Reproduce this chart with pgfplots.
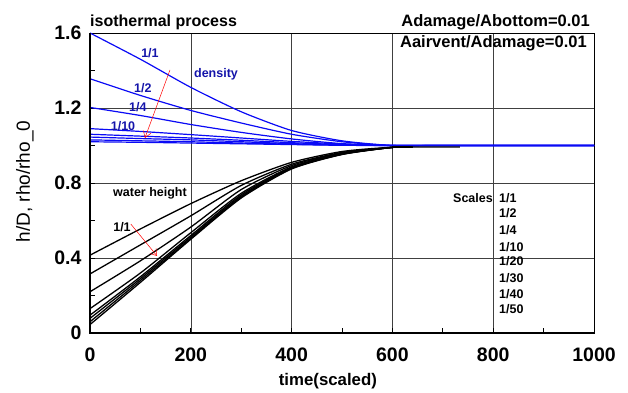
\documentclass[border=0pt]{standalone}
\usepackage{fontspec}
\setmainfont{Liberation Sans}
\usepackage{pgfplots}
\pgfplotsset{compat=1.18}
\usetikzlibrary{arrows.meta}
\definecolor{lblue}{RGB}{10,10,245}
\definecolor{tblue}{RGB}{20,20,170}
\begin{document}
\begin{tikzpicture}
\path[use as bounding box] (-90pt,-59pt) rectangle (538pt,333pt);
\begin{axis}[
  at={(0,0)}, anchor=south west, scale only axis,
  width=504pt, height=300pt,
  xmin=0, xmax=1000, ymin=0, ymax=1.6,
  xtick={0,200,400,600,800,1000},
  xticklabels={0,200,400,600,800,1000},
  ytick={0,0.4,0.8,1.2,1.6},
  yticklabels={0,0.4,0.8,1.2,1.6},
  minor xtick={100,300,500,700,900},
  minor ytick={0.2,0.6,1.0,1.4},
  xtick pos=bottom, ytick pos=left, tick align=inside,
  major tick length=5pt, minor tick length=5pt,
  tick style={black, line width=0.8pt},
  xmajorgrids=true, ymajorgrids=true,
  xminorgrids=false, yminorgrids=false,
  grid style={gray!50!black, line width=0.6pt},
  major grid style={gray!50!black, line width=0.6pt},
  axis line style={black, line width=0.7pt},
  ticklabel style={font=\fontsize{19.5}{22}\bfseries\selectfont},
  xticklabel style={yshift=-11pt},
  yticklabel style={xshift=-5pt},
  xlabel={\fontsize{16.8}{19}\bfseries\selectfont time(scaled)},
  ylabel={\fontsize{19}{22}\selectfont h/D, rho/rho\_0},
  every axis x label/.style={at={(axis description cs:0.472,-0.16)}, anchor=center},
  every axis y label/.style={at={(axis description cs:-0.129,0.505)}, rotate=90, anchor=center},
  clip=false,
]
% density (blue)
\addplot[lblue, line width=1.2pt] coordinates {(0,1.0) (0,1.6)};
\addplot[lblue, line width=1.2pt, smooth, tension=0.4] coordinates {(0,1.6) (100,1.46) (200,1.31) (300,1.18) (400,1.08) (500,1.025) (600,1.0) (700,1.0) (1000,1.0)};
\addplot[lblue, line width=1.2pt, smooth, tension=0.4] coordinates {(0,1.356) (100,1.267) (200,1.187) (300,1.12) (400,1.06) (500,1.02) (600,1.0) (700,1.0) (1000,1.0)};
\addplot[lblue, line width=1.2pt, smooth, tension=0.4] coordinates {(0,1.203) (100,1.16) (200,1.112) (300,1.07) (400,1.035) (500,1.01) (600,1.0) (700,1.0) (1000,1.0)};
\addplot[lblue, line width=1.2pt, smooth, tension=0.4] coordinates {(0,1.09) (100,1.075) (200,1.058) (300,1.04) (400,1.022) (500,1.008) (600,1.0) (700,1.0) (1000,1.0)};
\addplot[lblue, line width=1.2pt, smooth, tension=0.4] coordinates {(0,1.06) (100,1.05) (200,1.04) (300,1.028) (400,1.015) (500,1.005) (600,1.0) (700,1.0) (1000,1.0)};
\addplot[lblue, line width=1.2pt, smooth, tension=0.4] coordinates {(0,1.045) (100,1.037) (200,1.03) (300,1.02) (400,1.01) (500,1.003) (600,1.0) (700,1.0) (1000,1.0)};
\addplot[lblue, line width=1.2pt, smooth, tension=0.4] coordinates {(0,1.03) (100,1.025) (200,1.02) (300,1.013) (400,1.007) (500,1.002) (600,1.0) (700,1.0) (1000,1.0)};
\addplot[lblue, line width=1.2pt, smooth, tension=0.4] coordinates {(0,1.02) (100,1.017) (200,1.013) (300,1.009) (400,1.005) (500,1.001) (600,1.0) (700,1.0) (1000,1.0)};
% water height (black)
\addplot[black, line width=1.3pt, smooth, tension=0.4] coordinates {(0,0.415) (100,0.555) (200,0.69) (300,0.812) (400,0.91) (500,0.968) (600,0.99) (734,0.992)};
\addplot[black, line width=1.3pt, smooth, tension=0.4] coordinates {(0,0.315) (100,0.47) (200,0.625) (300,0.787) (400,0.90) (500,0.963) (600,0.99) (640,0.991)};
\addplot[black, line width=1.3pt, smooth, tension=0.4] coordinates {(0,0.22) (100,0.385) (200,0.565) (300,0.765) (400,0.893) (500,0.96) (600,0.99) (640,0.991)};
\addplot[black, line width=1.3pt, smooth, tension=0.4] coordinates {(0,0.13) (100,0.32) (200,0.535) (300,0.745) (400,0.886) (500,0.957) (600,0.99) (640,0.991)};
\addplot[black, line width=1.3pt, smooth, tension=0.4] coordinates {(0,0.095) (100,0.30) (200,0.52) (300,0.737) (400,0.882) (500,0.955) (600,0.99) (640,0.991)};
\addplot[black, line width=1.3pt, smooth, tension=0.4] coordinates {(0,0.078) (100,0.29) (200,0.512) (300,0.73) (400,0.879) (500,0.954) (600,0.99) (640,0.991)};
\addplot[black, line width=1.3pt, smooth, tension=0.4] coordinates {(0,0.06) (100,0.28) (200,0.505) (300,0.725) (400,0.877) (500,0.953) (600,0.99) (640,0.991)};
\addplot[black, line width=1.3pt, smooth, tension=0.4] coordinates {(0,0.045) (100,0.27) (200,0.50) (300,0.72) (400,0.875) (500,0.952) (600,0.99) (640,0.991)};
% frame emphasis
\draw[black, line width=1.6pt] (rel axis cs:0,1) -- (rel axis cs:0,0) -- (rel axis cs:1,0);
% texts
\node[anchor=base west, inner sep=0pt, font=\fontsize{16}{18}\bfseries\selectfont] at (axis cs:0,1.637) {isothermal process};
\node[anchor=base east, inner sep=0pt, font=\fontsize{16.5}{18}\bfseries\selectfont] at (axis cs:992,1.637) {Adamage/Abottom=0.01};
\node[anchor=base east, inner sep=0pt, font=\fontsize{16.5}{18}\bfseries\selectfont] at (axis cs:986,1.525) {Aairvent/Adamage=0.01};
\begin{scope}[every node/.style={inner sep=0pt, font=\fontsize{12.5}{14}\bfseries\selectfont}]
\node[tblue] at (axis cs:119,1.493) {1/1};
\node[tblue] at (axis cs:105,1.307) {1/2};
\node[tblue] at (axis cs:95,1.205) {1/4};
\node[tblue] at (axis cs:65.5,1.104) {1/10};
\node[tblue] at (axis cs:250,1.381) {density};
\node at (axis cs:119,0.747) {water height};
\node at (axis cs:63.5,0.565) {1/1};
\node[anchor=east] at (axis cs:799.6,0.72) {Scales};
\node[anchor=west] at (axis cs:811.5,0.72) {1/1};
\node[anchor=west] at (axis cs:811.5,0.64) {1/2};
\node[anchor=west] at (axis cs:811.5,0.549) {1/4};
\node[anchor=west] at (axis cs:811.5,0.459) {1/10};
\node[anchor=west] at (axis cs:811.5,0.384) {1/20};
\node[anchor=west] at (axis cs:811.5,0.293) {1/30};
\node[anchor=west] at (axis cs:811.5,0.208) {1/40};
\node[anchor=west] at (axis cs:811.5,0.128) {1/50};
\end{scope}
\draw[red, line width=0.5pt, -{Straight Barb[length=6pt,width=8pt]}] (axis cs:158.7,1.403) -- (axis cs:109,1.04);
\draw[red, line width=0.5pt, -{Straight Barb[length=6pt,width=8pt]}] (axis cs:81,0.581) -- (axis cs:133,0.411);
\end{axis}
\end{tikzpicture}
\end{document}
